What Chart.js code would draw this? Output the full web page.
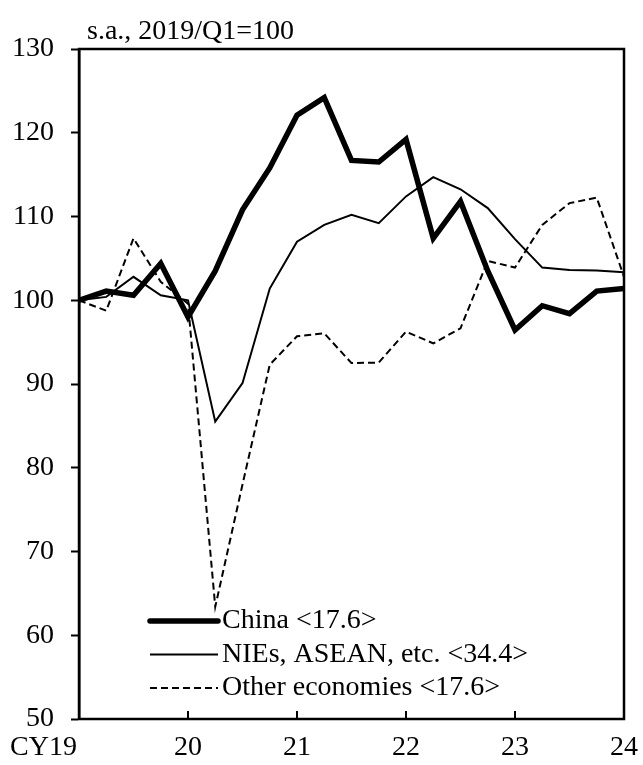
<!DOCTYPE html>
<html>
<head>
<meta charset="utf-8">
<script src="https://cdn.jsdelivr.net/npm/chart.js@4.4.1/dist/chart.umd.min.js"></script>
<style>
  html, body { margin: 0; padding: 0; background: #fff; }
  #wrap { width: 643px; height: 765px; }
</style>
</head>
<body>
<div id="wrap"><canvas id="c" width="643" height="765"></canvas></div>
<script>
// quarterly, 2019/Q1 .. 2024/Q1
var quarters = ['19Q1','19Q2','19Q3','19Q4','20Q1','20Q2','20Q3','20Q4',
                '21Q1','21Q2','21Q3','21Q4','22Q1','22Q2','22Q3','22Q4',
                '23Q1','23Q2','23Q3','23Q4','24Q1'];
var yearLabels = ['CY19', '20', '21', '22', '23', '24'];
var china = [100, 101.1, 100.6, 104.4, 98.0, 103.5, 110.8, 115.8, 122.1, 124.2, 116.7,
             116.5, 119.2, 107.4, 111.8, 103.5, 96.45, 99.35, 98.4, 101.1, 101.4];
var nies  = [100, 100.4, 102.8, 100.6, 100.0, 85.5, 90.1, 101.4, 107.0, 109.0, 110.2,
             109.2, 112.4, 114.7, 113.25, 111.0, 107.3, 103.9, 103.6, 103.55, 103.35];
var other = [100, 98.75, 107.4, 102.2, 99.6, 63.4, 78.0, 92.3, 95.7, 96.05, 92.5,
             92.55, 96.25, 94.85, 96.65, 104.7, 103.9, 109.0, 111.6, 112.25, 102.8];
var seriesNames = ['China <17.6>', 'NIEs, ASEAN, etc. <34.4>', 'Other economies <17.6>'];
var yMin = 50, yMax = 130, yStep = 10;
var unitNote = 's.a., 2019/Q1=100';

var FONT = '"Liberation Serif", "Times New Roman", serif';
var FS = 28;

/* frame, year ticks / labels, unit note and in-plot legend */
var decor = {
  id: 'decor',
  afterDatasetsDraw: function (chart) {
    var ctx = chart.ctx, a = chart.chartArea, xs = chart.scales.x;
    ctx.save();
    ctx.strokeStyle = '#000';
    ctx.lineWidth = 2.5;
    ctx.strokeRect(a.left, a.top, a.right - a.left, a.bottom - a.top);

    // year ticks point inward
    ctx.lineWidth = 2;
    for (var i = 1; i < yearLabels.length - 1; i++) {
      var px = Math.round(xs.getPixelForValue(i * 4));
      ctx.beginPath(); ctx.moveTo(px, a.bottom); ctx.lineTo(px, a.bottom - 8); ctx.stroke();
    }

    ctx.fillStyle = '#000';
    ctx.font = FS + 'px ' + FONT;
    ctx.textBaseline = 'middle';
    yearLabels.forEach(function (lab, k) {
      var px = xs.getPixelForValue(k * 4);
      ctx.textAlign = k === 0 ? 'right' : 'center';
      ctx.fillText(lab, k === 0 ? px - 2 : px, a.bottom + 29);
    });

    ctx.textAlign = 'left';
    ctx.textBaseline = 'alphabetic';
    ctx.fillText(unitNote, a.left + 8, a.top - 10);

    // legend
    chart.data.datasets.forEach(function (ds, k) {
      var y = 621 + k * 33.5;
      ctx.lineWidth = ds.borderWidth;
      ctx.setLineDash(ds.borderDash || []);
      ctx.lineCap = k === 0 ? 'round' : 'butt';
      ctx.beginPath(); ctx.moveTo(150, y); ctx.lineTo(218, y); ctx.stroke();
      ctx.setLineDash([]);
      ctx.textBaseline = 'middle';
      ctx.fillText(ds.label, 222, y);
    });
    ctx.restore();
  }
};

new Chart(document.getElementById('c'), {
  type: 'line',
  data: {
    labels: quarters,
    datasets: [
      { label: seriesNames[0], data: china, borderColor: '#000', borderWidth: 5.5,
        pointRadius: 0, tension: 0, borderJoinStyle: 'miter', order: 0 },
      { label: seriesNames[1], data: nies, borderColor: '#000', borderWidth: 2,
        pointRadius: 0, tension: 0, borderJoinStyle: 'miter', order: 1 },
      { label: seriesNames[2], data: other, borderColor: '#000', borderWidth: 2,
        borderDash: [7, 4], pointRadius: 0, tension: 0, borderJoinStyle: 'miter', order: 2 }
    ]
  },
  options: {
    responsive: false,
    animation: false,
    devicePixelRatio: 1,
    layout: { padding: { top: 49, right: 19, bottom: 46, left: 0 } },
    plugins: { legend: { display: false }, tooltip: { enabled: false } },
    scales: {
      x: { type: 'category', display: false, offset: false },
      y: {
        min: yMin, max: yMax,
        afterFit: function (s) { s.width = 79; },
        ticks: { stepSize: yStep, color: '#000', padding: 17,
                 font: { family: FONT, size: FS } },
        grid: { drawOnChartArea: false, drawTicks: true, tickLength: 8,
                tickColor: '#000', tickWidth: 2 },
        border: { color: '#000', width: 2.5 }
      }
    }
  },
  plugins: [decor]
});
</script>
</body>
</html>
